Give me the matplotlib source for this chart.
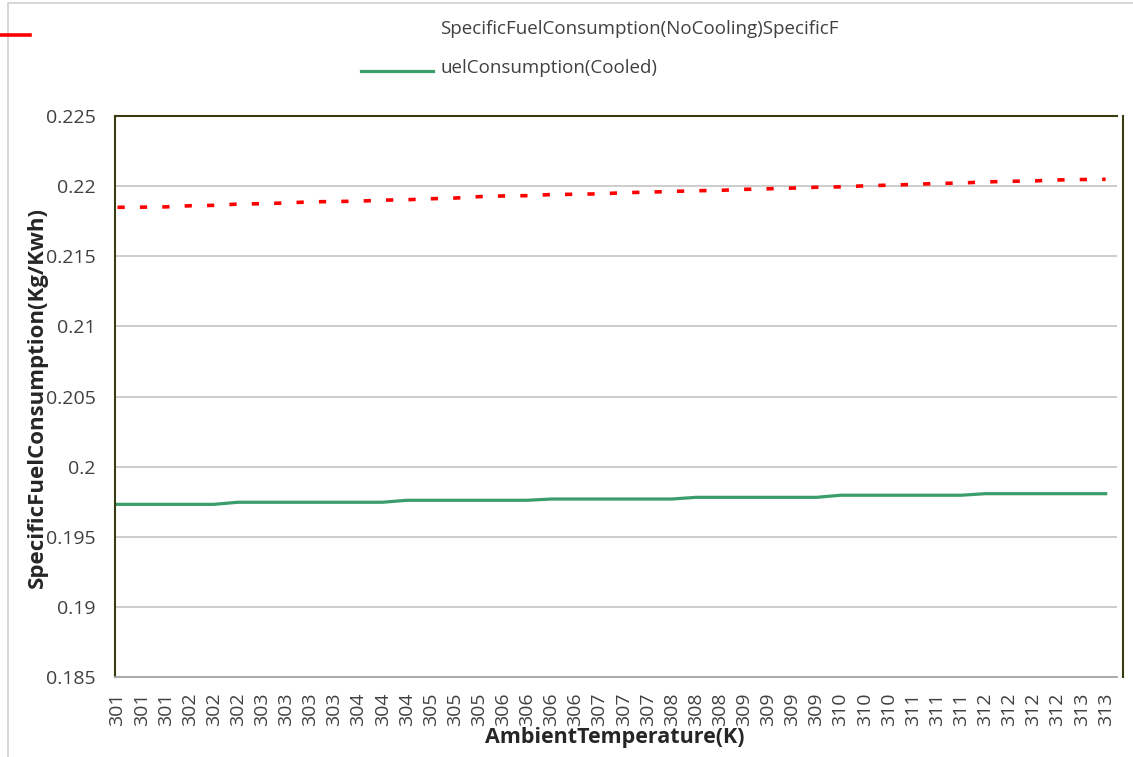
import numpy as np
import matplotlib
matplotlib.use("Agg")
import matplotlib.pyplot as plt
from matplotlib.lines import Line2D
from matplotlib.patches import Rectangle

plt.rcParams['font.family'] = ['Open Sans', 'DejaVu Sans']

# tick labels on the category axis (ambient temperature, K)
temps = ['301', '301', '301', '302', '302', '302', '303', '303', '303', '303',
         '304', '304', '304', '305', '305', '305', '306', '306', '306', '306',
         '307', '307', '307', '308', '308', '308', '309', '309', '309', '309',
         '310', '310', '310', '311', '311', '311', '312', '312', '312', '312',
         '313', '313']

# specific fuel consumption, no cooling (kg/kWh)
sfc_no_cooling = [0.21849, 0.21850, 0.21852, 0.21860, 0.21863, 0.21872, 0.21875,
                  0.21880, 0.21888, 0.21890, 0.21893, 0.21900, 0.21903, 0.21910,
                  0.21915, 0.21925, 0.21930, 0.21932, 0.21940, 0.21942, 0.21945,
                  0.21953, 0.21957, 0.21962, 0.21967, 0.21970, 0.21977, 0.21981,
                  0.21986, 0.21992, 0.21995, 0.22002, 0.22007, 0.22012, 0.22019,
                  0.22022, 0.22030, 0.22034, 0.22037, 0.22044, 0.22047, 0.22049]

# specific fuel consumption, cooled (kg/kWh)
sfc_cooled = [0.19731, 0.19731, 0.19731, 0.19731, 0.19731,
              0.19746, 0.19746, 0.19746, 0.19746, 0.19746, 0.19746, 0.19746,
              0.19760, 0.19760, 0.19760, 0.19760, 0.19760, 0.19760,
              0.19769, 0.19769, 0.19769, 0.19769, 0.19769, 0.19769,
              0.19781, 0.19781, 0.19781, 0.19781, 0.19781, 0.19781,
              0.19796, 0.19796, 0.19796, 0.19796, 0.19796, 0.19796,
              0.19807, 0.19807, 0.19807, 0.19807, 0.19807, 0.19807]

yticks = [0.185, 0.19, 0.195, 0.2, 0.205, 0.21, 0.215, 0.22, 0.225]

W, H = 1133, 757
fig = plt.figure(figsize=(W / 100, H / 100), dpi=100)
ax = fig.add_axes([115 / W, 1 - 677 / H, 1002 / W, 561 / H])

x = np.arange(len(temps))
red = '#ff0000'
green = '#3a9d6b'
olive = '#3b3b10'

ax.plot(x, sfc_no_cooling, color=red, lw=2.6, dashes=(2, 4.2))
ax.plot(x, sfc_cooled, color=green, lw=2.3)

ax.set_xlim(-0.104, 41.47)
ax.set_ylim(0.185, 0.225)
ax.set_xticks(x)
ax.set_xticklabels(temps, rotation=90)
ax.set_yticks(yticks)
ax.set_yticklabels([f'{v:g}' for v in yticks])
ax.tick_params(axis='x', length=0, pad=11, labelsize=14, labelcolor='#404040')
ax.tick_params(axis='y', length=0, pad=14, labelsize=14, labelcolor='#404040')

ax.yaxis.grid(True, color='#c0c0c0', lw=1.1)
ax.set_axisbelow(True)

ax.spines['left'].set_color(olive)
ax.spines['left'].set_linewidth(1.5)
ax.spines['top'].set_color(olive)
ax.spines['top'].set_linewidth(1.5)
ax.spines['bottom'].set_color('#a6a6a6')
ax.spines['bottom'].set_linewidth(1.3)
ax.spines['right'].set_color(olive)
ax.spines['right'].set_linewidth(1.5)
ax.spines['right'].set_position(('outward', 4.3))

# axis titles
fig.text(37 / W, 1 - 397 / H, 'SpecificFuelConsumption(Kg/Kwh)', rotation=90,
         ha='center', va='center', fontsize=16, fontweight='bold', color='#262626')
fig.text(615 / W, 1 - 737 / H, 'AmbientTemperature(K)', ha='center', va='center',
         fontsize=15.5, fontweight='bold', color='#262626')

# legend (wrapped as in the source chart)
fig.add_artist(Line2D([0 / W, 30 / W], [1 - 35 / H, 1 - 35 / H], color=red, lw=2.6))
fig.add_artist(Line2D([361 / W, 433 / W], [1 - 71 / H, 1 - 71 / H], color=green, lw=2.3))
fig.text(440 / W, 1 - 29 / H, 'SpecificFuelConsumption(NoCooling)SpecificF',
         ha='left', va='center', fontsize=13.5, color='#404040')
fig.text(440 / W, 1 - 68 / H, 'uelConsumption(Cooled)',
         ha='left', va='center', fontsize=13.5, color='#404040')

# chart area border
fig.add_artist(Rectangle((8 / W, -0.05), 1.1, 1 - 3 / H + 0.05, transform=fig.transFigure,
                         fill=False, ec='#d0d0d0', lw=1.2))

fig.savefig('out.png', dpi=100)
